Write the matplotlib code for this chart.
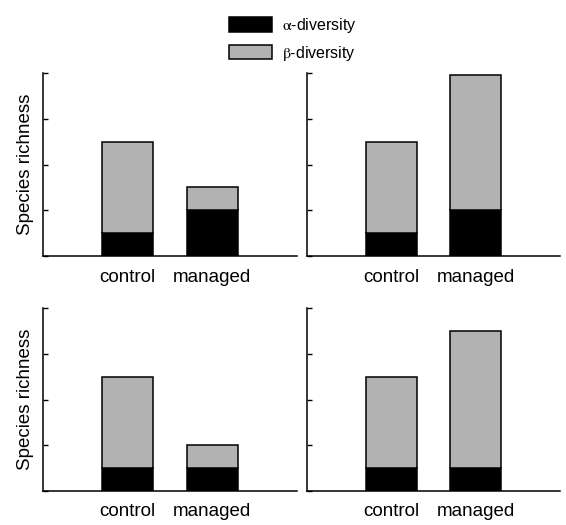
import matplotlib
matplotlib.use('Agg')
import matplotlib.pyplot as plt
from matplotlib.patches import Patch
import numpy as np

plt.rcParams['font.family'] = ['Liberation Sans', 'DejaVu Sans']
plt.rcParams['mathtext.fontset'] = 'stix'

# Data
categories = ['control', 'managed']
# alpha-diversity and total species richness per panel (TL, TR, BL, BR)
alpha_div = [
    [0.5, 1.0],
    [0.5, 1.0],
    [0.5, 0.5],
    [0.5, 0.5],
]
total_rich = [
    [2.5, 1.5],
    [2.5, 3.95],
    [2.5, 1.0],
    [2.5, 3.5],
]
yticks = [0, 1, 2, 3, 4]

black = '#000000'
grey = '#b2b2b2'

fig = plt.figure(figsize=(5.66, 5.25), dpi=100)

W, H = 566, 525
# axes boxes in pixels: left, top, right, bottom
boxes = [
    (43, 73, 297, 256),
    (307, 73, 560, 256),
    (43, 308, 297, 491),
    (307, 308, 560, 491),
]

x = np.arange(1, len(categories) + 1)

for i, (l, t, r, b) in enumerate(boxes):
    ax = fig.add_axes([l / W, 1 - b / H, (r - l) / W, (b - t) / H])
    a = np.array(alpha_div[i])
    beta = np.array(total_rich[i]) - a
    ax.bar(x, a, width=0.6, color=black, edgecolor='black', linewidth=1.1)
    ax.bar(x, beta, bottom=a, width=0.6, color=grey, edgecolor='black', linewidth=1.1)

    ax.set_xlim(0, 3)
    ax.set_ylim(0, 4)
    ax.set_yticks(yticks)
    ax.set_yticklabels([])
    ax.set_xticks(x)
    ax.set_xticklabels(categories, fontsize=13.5)
    ax.tick_params(axis='y', direction='in', length=3.5, width=1.0)
    ax.tick_params(axis='x', length=0, pad=9)
    for s in ['top', 'right']:
        ax.spines[s].set_visible(False)
    for s in ['left', 'bottom']:
        ax.spines[s].set_linewidth(1.1)
    if i % 2 == 0:
        ax.set_ylabel('Species richness', fontsize=13.5, labelpad=3)

# legend at the top centre
handles = [
    Patch(facecolor=black, edgecolor='black', linewidth=1.1),
    Patch(facecolor=grey, edgecolor='black', linewidth=1.1),
]
fig.legend(handles, [r'$\mathrm{\alpha}$-diversity', r'$\mathrm{\beta}$-diversity'],
           loc='upper center', bbox_to_anchor=(293 / W, 1 - 8 / H),
           frameon=False, fontsize=11.5, handlelength=2.7, handleheight=1.0,
           handletextpad=0.6, labelspacing=0.55, borderpad=0)

fig.savefig('out.png', dpi=100)
